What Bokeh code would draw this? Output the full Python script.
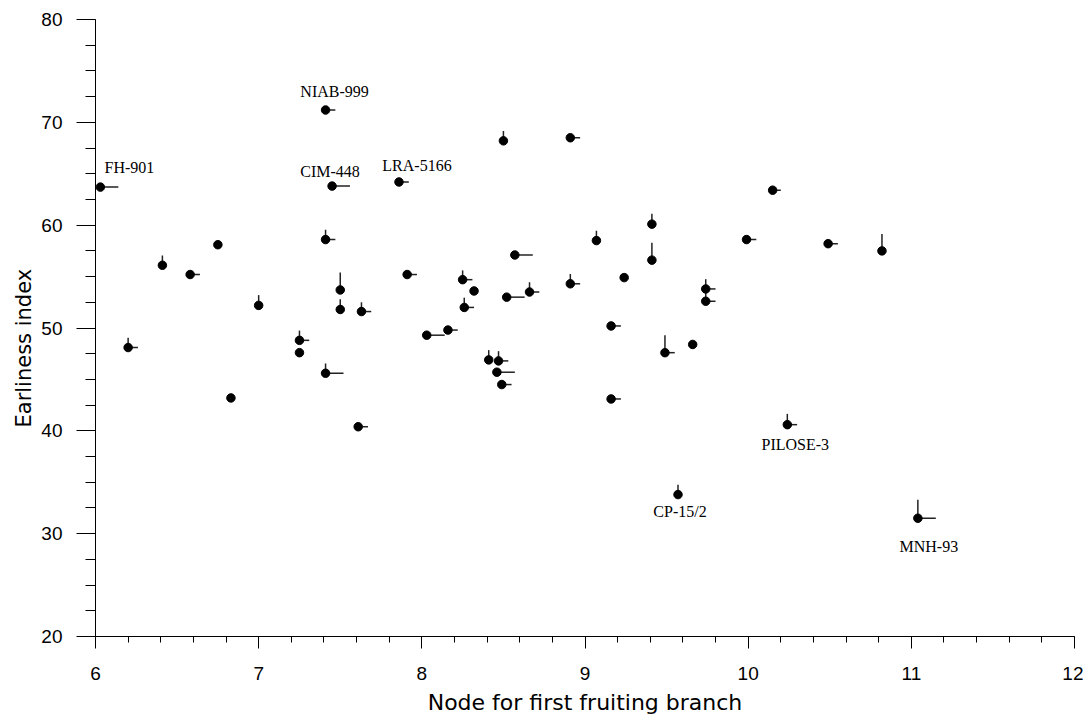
from bokeh.plotting import figure
from bokeh.models import ColumnDataSource, SingleIntervalTicker, Range1d, Title
from bokeh.core.properties import value
from bokeh.embed import file_html
from bokeh.resources import INLINE

# ---- data ----
node = [6.03, 6.20, 6.41, 6.58, 6.75, 6.83, 7.00, 7.25, 7.25, 7.41,
        7.41, 7.41, 7.45, 7.50, 7.50, 7.61, 7.63, 7.86, 7.91, 8.03,
        8.16, 8.25, 8.26, 8.32, 8.41, 8.46, 8.47, 8.49, 8.50, 8.52,
        8.57, 8.66, 8.91, 8.91, 9.07, 9.16, 9.16, 9.24, 9.41, 9.41,
        9.49, 9.57, 9.66, 9.74, 9.74, 9.99, 10.15, 10.24, 10.49, 10.82,
        11.04]
earliness = [63.7, 48.1, 56.1, 55.2, 58.1, 43.2, 52.2, 48.8, 47.6, 45.6,
             71.2, 58.6, 63.8, 53.7, 51.8, 40.4, 51.6, 64.2, 55.2, 49.3,
             49.8, 54.7, 52.0, 53.6, 46.9, 45.7, 46.8, 44.5, 68.2, 53.0,
             57.1, 53.5, 68.5, 54.3, 58.5, 43.1, 50.2, 54.9, 60.1, 56.6,
             47.6, 33.8, 48.4, 53.8, 52.6, 58.6, 63.4, 40.6, 58.2, 57.5,
             31.5]
earliness_err = [0, 0.95, 0.95, 0, 0, 0, 1.0, 0.95, 0, 0.95,
                 0, 0.95, 0, 1.7, 1.0, 0, 0.9, 0, 0, 0,
                 0, 0.9, 0.95, 0, 0.95, 0, 0.95, 0, 0.95, 0,
                 0, 0.95, 0, 0.95, 0.95, 0, 0, 0, 1.0, 1.7,
                 1.7, 0.95, 0, 0.95, 1.1, 0, 0, 1.05, 0, 1.65,
                 1.8]
node_err = [0.11, 0.06, 0, 0.06, 0, 0, 0, 0.06, 0, 0.11,
            0.06, 0.06, 0.11, 0, 0, 0.06, 0.06, 0.06, 0.06, 0.11,
            0.06, 0.06, 0.06, 0, 0, 0.11, 0.06, 0.06, 0, 0.11,
            0.11, 0.06, 0.06, 0.06, 0, 0.06, 0.06, 0, 0, 0,
            0.06, 0, 0, 0.06, 0.06, 0.06, 0.05, 0.06, 0.06, 0,
            0.11]
genotype = [""] * len(node)
genotype[0] = "FH-901"
genotype[10] = "NIAB-999"
genotype[12] = "CIM-448"
genotype[17] = "LRA-5166"
genotype[41] = "CP-15/2"
genotype[47] = "PILOSE-3"
genotype[50] = "MNH-93"

x_ticks_range = (6, 12)
y_ticks_range = (20, 80)
x_title = "Node for first fruiting branch"
y_title = "Earliness index"

# label placement (screen pixel offsets)
label_offsets = {
    "FH-901": (29, -20), "NIAB-999": (9, -18), "CIM-448": (-2, -15),
    "LRA-5166": (18, -16), "CP-15/2": (2, 17), "PILOSE-3": (8, 20),
    "MNH-93": (11, 28),
}

p = figure(width=1083, height=721, output_backend="svg", toolbar_location=None,
           x_range=Range1d(*x_ticks_range), y_range=Range1d(*y_ticks_range),
           min_border_left=95, min_border_right=9, min_border_top=19,
           min_border_bottom=85)
p.outline_line_color = None
p.grid.visible = False
p.background_fill_color = "white"
p.border_fill_color = "white"

# error bars
vx0, vy0, vx1, vy1 = [], [], [], []
for xi, yi, ey, ex in zip(node, earliness, earliness_err, node_err):
    if ey > 0:
        vx0.append(xi); vy0.append(yi); vx1.append(xi); vy1.append(yi + ey)
    if ex > 0:
        vx0.append(xi); vy0.append(yi); vx1.append(xi + ex); vy1.append(yi)
p.segment(x0=vx0, y0=vy0, x1=vx1, y1=vy1, line_color="#222222", line_width=1.5)

p.scatter(node, earliness, size=8.5, fill_color="black", line_color="black", marker="circle")

lx, ly, lt, ox, oy = [], [], [], [], []
for xi, yi, g in zip(node, earliness, genotype):
    if g:
        lx.append(xi); ly.append(yi); lt.append(g)
        ox.append(label_offsets[g][0]); oy.append(label_offsets[g][1])
src = ColumnDataSource(dict(x=lx, y=ly, t=lt, ox=ox, oy=oy))
p.text(x="x", y="y", text="t", x_offset="ox", y_offset="oy", source=src,
       text_font=value("Liberation Serif"), text_font_size="16px",
       text_align="center", text_baseline="middle", text_color="black")

# axes
xa = p.xaxis[0]
xa.ticker = SingleIntervalTicker(interval=1, num_minor_ticks=5)
xa.major_tick_out = 12
xa.major_tick_in = 0
xa.minor_tick_out = 6
xa.minor_tick_in = 0
xa.major_label_standoff = 18
xa.major_label_text_line_height = 0.7

ya = p.yaxis[0]
ya.ticker = SingleIntervalTicker(interval=10, num_minor_ticks=4)
ya.major_tick_out = 19
ya.major_tick_in = 0
ya.minor_tick_out = 10
ya.minor_tick_in = 0
ya.major_label_standoff = 14

for ax in (xa, ya):
    ax.axis_line_color = "black"
    ax.axis_line_width = 1
    ax.major_tick_line_color = "black"
    ax.minor_tick_line_color = "black"
    ax.major_label_text_font = "Liberation Sans"
    ax.major_label_text_font_size = "19px"
    ax.major_label_text_color = "black"

# axis titles as side titles
p.add_layout(Title(text=x_title, align="center", standoff=10,
                   text_font="DejaVu Sans", text_font_size="22px",
                   text_font_style="normal", text_color="black"), "below")
p.add_layout(Title(text=y_title, align="left", offset=209, standoff=6,
                   text_font="DejaVu Sans", text_font_size="21px",
                   text_font_style="normal", text_color="black"), "left")

open("out.html", "w").write(file_html(p, INLINE))
